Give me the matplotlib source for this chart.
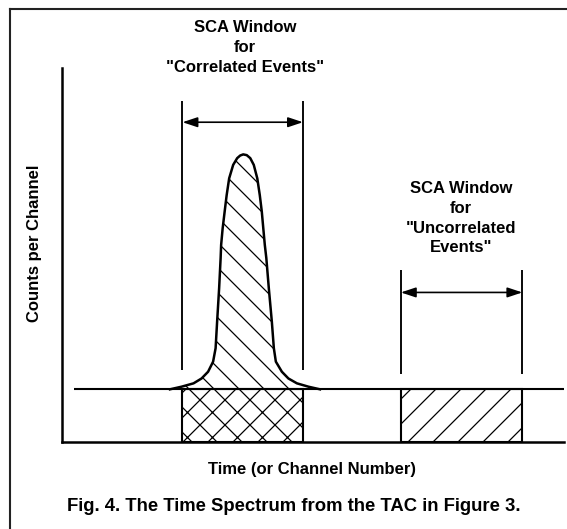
import matplotlib
matplotlib.use("Agg")
import matplotlib.pyplot as plt
from matplotlib.lines import Line2D

# --- data (channel units on x, counts on y) ---
background_level = 14.0
background_start = 2.4
axis_end = 100.0

# correlated peak outline
peak_x = [21.5, 23.8, 26.2, 27.8, 29.1, 30.1, 30.6, 30.9, 31.3, 31.6, 31.7, 32.0,
          32.4, 32.8, 33.3, 34.1, 34.9, 35.5, 36.1, 36.8, 37.5, 38.2, 38.9, 39.4,
          39.8, 40.1, 40.4, 40.7, 41.2, 41.8, 42.2, 42.6, 43.8, 45.1, 46.8, 49.1,
          51.4]
peak_y = [14.0, 14.7, 15.6, 16.9, 18.7, 21.4, 25.0, 32.1, 41.0, 49.1, 52.6, 57.0,
          61.5, 65.9, 70.4, 74.0, 75.8, 76.5, 76.8, 76.6, 75.8, 74.0, 70.4, 65.9,
          61.5, 57.0, 52.6, 49.1, 41.0, 32.1, 25.0, 21.4, 18.7, 16.9, 15.6, 14.7,
          14.0]

# SCA windows: (lower, upper) channel, marker line span, arrow height
window_names = ["Correlated Events", "Uncorrelated\nEvents"]
window_lo = [24.0, 67.5]
window_hi = [48.0, 91.7]
marker_bottom = [19.2, 18.1]
marker_top = [91.1, 45.9]
arrow_y = [85.4, 39.9]
label_y = [105.4, 59.7]
box_hatch = ["xx", "//"]

plt.rcParams["font.family"] = ["Liberation Sans", "DejaVu Sans"]
plt.rcParams["font.weight"] = "bold"
plt.rcParams["hatch.linewidth"] = 0.6

DPI = 150
fig = plt.figure(figsize=(567 / DPI, 529 / DPI), dpi=DPI)
fig.patch.set_facecolor("white")

ax = fig.add_axes([62 / 567, 1 - 441.7 / 529, 502 / 567, 374.1 / 529])
ax.set_xlim(0, axis_end)
ax.set_ylim(0, 100)
for side in ["top", "right"]:
    ax.spines[side].set_visible(False)
for side in ["left", "bottom"]:
    ax.spines[side].set_linewidth(1.2)
ax.set_xticks([])
ax.set_yticks([])
ax.patch.set_visible(False)

# background line
ax.hlines(background_level, background_start, axis_end, color="black", lw=1.0)

# peak: hatched area above background, then outline
ax.fill_between(peak_x, background_level, peak_y, facecolor="none",
                edgecolor="black", hatch="\\\\", linewidth=0)
ax.plot(peak_x, peak_y, color="black", lw=1.2, solid_joinstyle="round")

for i in range(len(window_lo)):
    lo, hi = window_lo[i], window_hi[i]
    mid = (lo + hi) / 2
    # hatched box under the background level
    ax.bar(mid, background_level, width=hi - lo, bottom=0, fill=False,
           hatch=box_hatch[i], edgecolor="black", lw=1.0)
    ax.vlines([lo, hi], marker_bottom[i], marker_top[i], color="black", lw=0.9)
    ax.annotate("", xy=(hi, arrow_y[i]), xytext=(lo, arrow_y[i]),
                arrowprops=dict(arrowstyle="<|-|>,head_length=0.6,head_width=0.2",
                                color="black", lw=0.8, shrinkA=0, shrinkB=0,
                                mutation_scale=10))
    ax.text(mid + 0.4 - i * 0.5, label_y[i],
            'SCA Window\nfor\n"' + window_names[i] + '"',
            ha="center", va="center", fontsize=8, fontweight="bold",
            linespacing=1.39, clip_on=False)

ax.text(-0.054, 0.531, "Counts per Channel", transform=ax.transAxes,
        rotation=90, ha="center", va="center", fontsize=8, fontweight="bold")
ax.text(0.498, -0.0746, "Time (or Channel Number)", transform=ax.transAxes,
        ha="center", va="center", fontsize=8, fontweight="bold")

fig.text(293.7 / 567, 1 - 506.8 / 529,
         "Fig. 4. The Time Spectrum from the TAC in Figure 3.",
         ha="center", va="center", fontsize=8.9, fontweight="bold")

# page frame: left and top rules
fig.add_artist(Line2D([10 / 567, 10 / 567], [0, 1 - 8.5 / 529],
                      transform=fig.transFigure, color="#222222", lw=1.0))
fig.add_artist(Line2D([10 / 567, 1], [1 - 8.5 / 529, 1 - 8.5 / 529],
                      transform=fig.transFigure, color="#222222", lw=1.0))

fig.savefig("out.png", dpi=DPI)
